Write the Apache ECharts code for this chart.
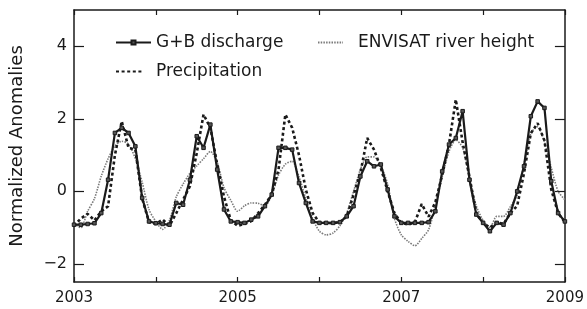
<!DOCTYPE html>
<html>
<head>
<meta charset="utf-8">
<script src="https://cdn.jsdelivr.net/npm/echarts@6/dist/echarts.min.js"></script>
<style>
  html, body { margin: 0; padding: 0; background: #fff; }
  #myChart { width: 587px; height: 309px; }
</style>
</head>
<body>
<div id="myChart"></div>
<script>
// monthly values, first point = Jan 2003
var startYear = 2003;
var yearTicks = [2003, 2004, 2005, 2006, 2007, 2008, 2009];
var yTicks = [-2, 0, 2, 4];

// G+B discharge
var gbDischarge = [
  -0.92, -0.92, -0.9, -0.88, -0.6, 0.32, 1.61, 1.75, 1.61, 1.24, -0.18, -0.83,
  -0.88, -0.9, -0.92, -0.32, -0.37, 0.32, 1.52, 1.2, 1.84, 0.6, -0.5, -0.83,
  -0.85, -0.87, -0.78, -0.69, -0.41, -0.09, 1.2, 1.2, 1.15, 0.23, -0.32, -0.83,
  -0.87, -0.87, -0.87, -0.85, -0.69, -0.41, 0.41, 0.83, 0.69, 0.74, 0.05, -0.69,
  -0.87, -0.87, -0.87, -0.87, -0.85, -0.55, 0.55, 1.29, 1.47, 2.21, 0.32, -0.64,
  -0.87, -1.1, -0.87, -0.92, -0.6, 0.0, 0.69, 2.07, 2.48, 2.3, 0.28, -0.6,
  -0.83
];
// Precipitation
var precipitation = [
  -0.95, -0.75, -0.62, -0.8, -0.55, -0.41, 1.0, 1.93, 1.2, 1.15, -0.2, -0.85,
  -0.9, -0.78, -0.95, -0.6, -0.23, 0.14, 1.05, 2.12, 1.75, 0.75, -0.15, -0.8,
  -0.95, -0.9, -0.82, -0.6, -0.37, -0.09, 0.6, 2.12, 1.75, 1.0, 0.05, -0.6,
  -0.87, -0.87, -0.88, -0.85, -0.69, -0.1, 0.5, 1.47, 1.15, 0.65, 0.0, -0.6,
  -0.87, -0.92, -0.85, -0.35, -0.7, -0.3, 0.45, 1.3, 2.53, 1.35, 0.4, -0.6,
  -0.87, -1.0, -0.85, -0.9, -0.6, -0.4, 0.5, 1.6, 1.88, 1.4, 0.05, -0.6,
  -0.85
];
// ENVISAT river height
var envisatHeight = [
  -0.9, -1.0, -0.55, -0.2, 0.42, 0.9, 1.25, 1.38, 1.3, 0.9, 0.25, -0.5,
  -0.83, -1.05, -0.8, -0.15, 0.2, 0.5, 0.7, 0.9, 1.1, 0.8, 0.1, -0.25,
  -0.55, -0.4, -0.32, -0.33, -0.4, -0.1, 0.45, 0.75, 0.83, 0.4, -0.2, -0.75,
  -1.1, -1.2, -1.15, -0.95, -0.6, 0.0, 0.6, 0.95, 0.95, 0.7, 0.2, -0.75,
  -1.2, -1.38, -1.5, -1.3, -1.06, -0.4, 0.4, 1.1, 1.42, 1.2, 0.35, -0.4,
  -0.8, -1.0, -0.69, -0.69, -0.42, -0.1, 0.75, 1.6, 1.78, 1.35, 0.65, 0.0,
  -0.23
];

function toPairs(arr) {
  return arr.map(function (v, i) { return [startYear + i / 12, v]; });
}

var ink = '#1a1a1a';
var fontName = 'DejaVu Sans';
var legendText = { fontFamily: fontName, fontSize: 17, color: ink };

var myChart = echarts.init(document.getElementById('myChart'));
myChart.setOption({
  animation: false,
  backgroundColor: '#fff',
  textStyle: { fontFamily: fontName, color: ink },
  grid: { left: 74, right: 18, top: 10, bottom: 27 },
  legend: [
    {
      left: 115, top: 34, padding: 0, itemWidth: 35, itemHeight: 5,
      data: ['G+B discharge'],
      textStyle: legendText
    },
    {
      left: 317, top: 34, padding: 0, itemWidth: 25, itemHeight: 8,
      data: ['ENVISAT river height'],
      itemStyle: { opacity: 0 },
      textStyle: Object.assign({ padding: [0, 0, 0, 10] }, legendText)
    },
    {
      left: 115, top: 63, padding: 0, itemWidth: 26, itemHeight: 8,
      data: ['Precipitation'],
      itemStyle: { opacity: 0 },
      textStyle: Object.assign({ padding: [0, 0, 0, 9] }, legendText)
    }
  ],
  xAxis: [
    {
      type: 'value', min: 2003, max: 2009, interval: 1,
      axisLine: { onZero: false, lineStyle: { color: ink, width: 1.5 } },
      axisTick: { inside: true, length: 5, lineStyle: { color: ink, width: 1.2 } },
      axisLabel: {
        fontFamily: fontName, fontSize: 15, color: ink, margin: 9,
        formatter: function (v) { return v % 2 === 1 ? String(v) : ''; }
      },
      splitLine: { show: false }
    },
    {
      type: 'value', position: 'top', min: 2003, max: 2009, interval: 1,
      axisLine: { show: true, onZero: false, lineStyle: { color: ink, width: 1.5 } },
      axisTick: { inside: true, length: 5, lineStyle: { color: ink, width: 1.2 } },
      axisLabel: { show: false },
      splitLine: { show: false }
    }
  ],
  yAxis: [
    {
      type: 'value', min: -2.5, max: 5,
      name: 'Normalized Anomalies', nameLocation: 'middle', nameGap: 48,
      nameTextStyle: { fontFamily: fontName, fontSize: 18, color: ink },
      axisLine: { show: true, onZero: false, lineStyle: { color: ink, width: 1.5 } },
      axisTick: { show: true, inside: true, length: 10, customValues: yTicks, lineStyle: { color: ink, width: 1.2 } },
      axisLabel: {
        fontFamily: fontName, fontSize: 16, color: ink, margin: 7, customValues: yTicks,
        formatter: function (v) { return v < 0 ? '\u2212' + Math.abs(v) : String(v); }
      },
      splitLine: { show: false }
    },
    {
      type: 'value', position: 'right', min: -2.5, max: 5,
      axisLine: { show: true, onZero: false, lineStyle: { color: ink, width: 1.5 } },
      axisTick: { show: true, inside: true, length: 10, customValues: yTicks, lineStyle: { color: ink, width: 1.2 } },
      axisLabel: { show: false },
      splitLine: { show: false }
    }
  ],
  series: [
    {
      name: 'ENVISAT river height',
      type: 'line',
      data: toPairs(envisatHeight),
      symbol: 'none',
      smooth: 0.25,
      lineStyle: { color: '#7a7a7a', width: 1.6, type: [1.5, 1.2] },
      itemStyle: { color: '#7a7a7a' },
      z: 2
    },
    {
      name: 'Precipitation',
      type: 'line',
      data: toPairs(precipitation),
      symbol: 'none',
      lineStyle: { color: ink, width: 2.6, type: [3, 2.6] },
      itemStyle: { color: ink },
      z: 3
    },
    {
      name: 'G+B discharge',
      type: 'line',
      data: toPairs(gbDischarge),
      symbol: 'rect',
      symbolSize: 3.5,
      showAllSymbol: true,
      lineStyle: { color: ink, width: 2.2 },
      itemStyle: { color: '#555', borderColor: ink, borderWidth: 1 },
      z: 4
    }
  ]
});
</script>
</body>
</html>
